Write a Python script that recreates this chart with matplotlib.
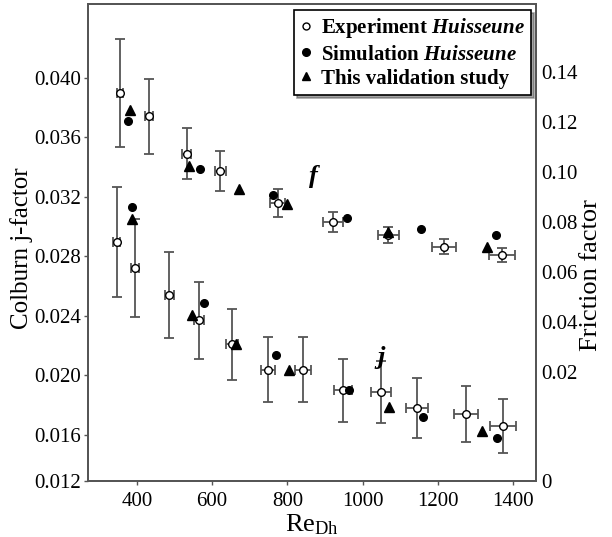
import matplotlib
matplotlib.use("Agg")
import matplotlib.pyplot as plt
from matplotlib.lines import Line2D

plt.rcParams['font.family'] = ['Liberation Serif', 'DejaVu Serif']
plt.rcParams['mathtext.fontset'] = 'custom'
plt.rcParams['mathtext.rm'] = 'Liberation Serif'
plt.rcParams['mathtext.it'] = 'Liberation Serif:italic:bold'

# Colburn j-factor (left axis)
re_j_exp = [346, 395, 486, 565, 652, 748, 842, 949, 1049, 1144, 1274, 1373]
re_j_exp_err = [9, 10, 12, 14, 16, 19, 21, 24, 26, 29, 32, 35]
j_exp = [0.0290, 0.0272, 0.0254, 0.0237, 0.0221, 0.0204, 0.0204, 0.0190, 0.0189, 0.0178, 0.0174, 0.0166]
j_exp_err = [0.0037, 0.0033, 0.0029, 0.0026, 0.0024, 0.0022, 0.0022, 0.0021, 0.0021, 0.0020, 0.0019, 0.0018]
re_j_sim = [388, 578, 770, 965, 1160, 1358]
j_sim = [0.0313, 0.0249, 0.0214, 0.0190, 0.0172, 0.0158]
re_j_val = [388, 547, 663, 804, 1071, 1318]
j_val = [0.0305, 0.0241, 0.0221, 0.0204, 0.0179, 0.0163]

# friction factor (right axis)
re_f_exp = [355, 432, 532, 622, 774, 922, 1068, 1217, 1370]
re_f_exp_err = [9, 11, 13, 15, 19, 26, 28, 32, 35]
f_exp = [0.1315, 0.1223, 0.1073, 0.1003, 0.0875, 0.0799, 0.0748, 0.0701, 0.0668]
f_exp_err = [0.0215, 0.0150, 0.0103, 0.0080, 0.0055, 0.0040, 0.0032, 0.0030, 0.0028]
re_f_sim = [377, 568, 763, 959, 1155, 1354]
f_sim = [0.1205, 0.1011, 0.0909, 0.0817, 0.0773, 0.0749]
re_f_val = [381, 538, 671, 798, 1067, 1332]
f_val = [0.1248, 0.1025, 0.0932, 0.0871, 0.0759, 0.0699]

j_ticks = [0.016, 0.020, 0.024, 0.028, 0.032, 0.036, 0.040]
f_ticks = [0.02, 0.04, 0.06, 0.08, 0.10, 0.12, 0.14]

grey = '#555555'

fig = plt.figure(figsize=(6.12, 5.37), dpi=100)
ax = fig.add_axes([0.1438, 0.1043, 0.7320, 0.8883])
ax2 = ax.twinx()

# bottom labels of both axes sit lower than the regular spacing, as in the source
j_lo, j_hi = 0.012907, 0.044977
f_lo, f_hi = -0.0236, 0.1672

ax.errorbar(re_j_exp, j_exp, yerr=j_exp_err, xerr=re_j_exp_err, fmt='none',
            ecolor=grey, elinewidth=1.3, capsize=3.5, capthick=1.3, zorder=2)
ax.plot(re_j_exp, j_exp, 'o', ms=5.5, mfc='white', mec='black', mew=1.0, zorder=3)
ax.plot(re_j_sim, j_sim, 'o', ms=5.5, color='black', zorder=3)
ax.plot(re_j_val, j_val, '^', ms=6.5, color='black', zorder=3)

ax2.errorbar(re_f_exp, f_exp, yerr=f_exp_err, xerr=re_f_exp_err, fmt='none',
             ecolor=grey, elinewidth=1.3, capsize=3.5, capthick=1.3, zorder=2)
ax2.plot(re_f_exp, f_exp, 'o', ms=5.5, mfc='white', mec='black', mew=1.0, zorder=3)
ax2.plot(re_f_sim, f_sim, 'o', ms=5.5, color='black', zorder=3)
ax2.plot(re_f_val, f_val, '^', ms=6.5, color='black', zorder=3)

ax.set_xlim(270, 1461)
ax.set_ylim(j_lo, j_hi)
ax2.set_ylim(f_lo, f_hi)

ax.set_xticks([400, 600, 800, 1000, 1200, 1400])
ax.set_yticks([j_lo] + j_ticks, ['0.012'] + ['%.3f' % t for t in j_ticks])
ax2.set_yticks([f_lo] + f_ticks, ['0'] + ['%.2f' % t for t in f_ticks])

ax.tick_params(axis='both', labelsize=15, length=3, width=1, color=grey, pad=2)
ax.tick_params(axis='x', pad=5)
ax2.tick_params(axis='y', labelsize=15, length=0, pad=4)

for a in (ax, ax2):
    for s in a.spines.values():
        s.set_color(grey)
        s.set_linewidth(1.3)

ax.set_ylabel('Colburn j-factor', fontsize=18)
ax.yaxis.set_label_coords(-0.123, 0.488)
ax2.set_ylabel('Friction factor', fontsize=19, rotation=90)
ax2.yaxis.set_label_coords(1.098, 0.432)
ax.set_xlabel(r'Re$_{\mathrm{Dh}}$', fontsize=19)
ax.xaxis.set_label_coords(0.5, -0.066)

ax2.text(868, 0.0980, 'f', fontsize=19, fontweight='bold', style='italic',
         ha='center', va='center')
ax.text(1049, 0.0212, 'j', fontsize=19, fontweight='bold', style='italic',
        ha='center', va='center')

handles = [
    Line2D([], [], ls='none', marker='o', ms=5, mfc='white', mec='black', mew=1.0),
    Line2D([], [], ls='none', marker='o', ms=5.5, color='black'),
    Line2D([], [], ls='none', marker='^', ms=6, color='black'),
]
labels = [r'Experiment $\mathit{Huisseune}$', r'Simulation $\mathit{Huisseune}$',
          'This validation study']
leg = ax2.legend(handles, labels, loc='upper right', bbox_to_anchor=(0.989, 0.987),
                 borderaxespad=0, fancybox=False, shadow=True, framealpha=1,
                 edgecolor='black', handlelength=0.6, handletextpad=0.4,
                 labelspacing=0.2, borderpad=0.3, prop={'size': 15, 'weight': 'bold'})
leg.get_frame().set_linewidth(1.2)

fig.savefig('out.png', dpi=100)
